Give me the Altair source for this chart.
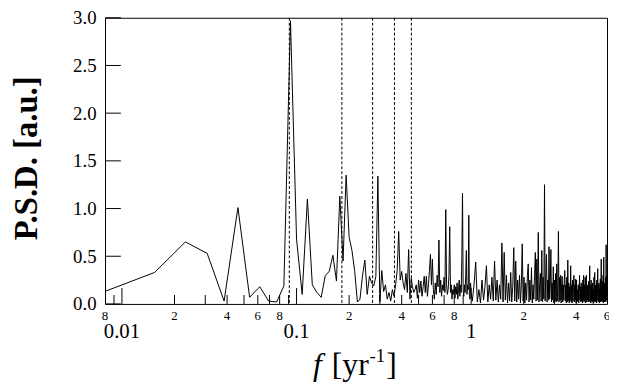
import altair as alt
import pandas as pd

# frequency resolution of the periodogram (yr^-1)
DF = 1.0 / 130.0

# PSD values at k = 1..130  (f = k * DF)
psd_low = [
    0.12, 0.33, 0.65, 0.53, 0.03, 1.01, 0.07, 0.18, 0.03, 0.02,
    0.19, 2.97, 0.68, 0.10, 1.10, 0.20, 0.12, 0.07, 0.30, 0.34,
    0.51, 0.24, 1.13, 0.45, 1.35, 0.70, 0.56, 0.34, 0.02, 0.05,
    0.29, 0.46, 0.10, 0.29, 0.22, 0.19, 0.29, 1.34, 0.02, 0.35,
    0.13, 0.20, 0.05, 0.12, 0.03, 0.15, 0.08, 0.20, 0.35, 0.76,
    0.25, 0.34, 0.22, 0.15, 0.32, 0.12, 0.57, 0.05, 0.27, 0.18,
    0.12, 0.15, 0.20, 0.06, 0.25, 0.12, 0.24, 0.08, 0.18, 0.29,
    0.12, 0.29, 0.08, 0.20, 0.35, 0.52, 0.20, 0.47, 0.15, 0.05,
    0.22, 0.10, 0.30, 0.18, 0.67, 0.12, 0.25, 0.08, 0.20, 0.14,
    0.28, 0.12, 0.99, 0.20, 0.10, 0.15, 0.30, 0.81, 0.12, 0.20,
    0.05, 0.15, 0.10, 0.20, 0.06, 0.18, 0.10, 0.22, 0.05, 0.15,
    0.25, 0.08, 0.20, 0.12, 0.49, 1.16, 0.15, 0.08, 0.20, 0.12,
    0.30, 0.56, 0.10, 0.20, 0.15, 0.93, 0.10, 0.05, 0.22, 0.12,
]

# PSD values at k = 132, 135, ..., 780 (sampled every third bin)
psd_high = [
    0.03, 0.20, 0.44, 0.02, 0.15, 0.01, 0.25, 0.04, 0.18, 0.40,
    0.02, 0.20, 0.05, 0.28, 0.03, 0.45, 0.04, 0.25, 0.02, 0.20,
    0.05, 0.64, 0.02, 0.54, 0.04, 0.30, 0.01, 0.22, 0.03, 0.33,
    0.02, 0.18, 0.59, 0.03, 0.45, 0.02, 0.25, 0.05, 0.30, 0.01,
    0.20, 0.63, 0.03, 0.28, 0.01, 0.22, 0.04, 0.30, 0.42, 0.02,
    0.25, 0.04, 0.38, 0.01, 0.20, 0.05, 0.30, 0.54, 0.03, 0.47,
    0.04, 0.75, 0.02, 0.20, 0.32, 0.03, 0.56, 0.02, 0.28, 0.05,
    1.25, 0.03, 0.30, 0.52, 0.02, 0.25, 0.04, 0.60, 0.05, 0.20,
    0.57, 0.02, 0.22, 0.04, 0.39, 0.01, 0.25, 0.03, 0.32, 0.02,
    0.42, 0.03, 0.20, 0.76, 0.02, 0.28, 0.04, 0.30, 0.01, 0.22,
    0.29, 0.02, 0.20, 0.04, 0.25, 0.35, 0.03, 0.20, 0.01, 0.28,
    0.02, 0.46, 0.03, 0.22, 0.01, 0.18, 0.04, 0.40, 0.02, 0.20,
    0.01, 0.25, 0.03, 0.18, 0.30, 0.02, 0.20, 0.04, 0.26, 0.01,
    0.25, 0.02, 0.15, 0.03, 0.20, 0.01, 0.12, 0.30, 0.04, 0.18,
    0.02, 0.22, 0.03, 0.17, 0.01, 0.25, 0.04, 0.30, 0.02, 0.20,
    0.03, 0.28, 0.01, 0.12, 0.30, 0.02, 0.20, 0.04, 0.18, 0.02,
    0.24, 0.03, 0.15, 0.40, 0.02, 0.20, 0.01, 0.25, 0.03, 0.18,
    0.02, 0.22, 0.04, 0.15, 0.01, 0.28, 0.03, 0.33, 0.02, 0.20,
    0.03, 0.18, 0.01, 0.25, 0.04, 0.15, 0.37, 0.02, 0.20, 0.03,
    0.22, 0.01, 0.16, 0.04, 0.26, 0.02, 0.20, 0.47, 0.03, 0.18,
    0.02, 0.24, 0.04, 0.30, 0.01, 0.49, 0.03, 0.22, 0.02, 0.20,
    0.03, 0.28, 0.02, 0.62, 0.04, 0.30, 0.05,
]

# dashed lines: 11-yr cycle and its harmonics
harmonics = [0.0909, 0.1818, 0.2727, 0.3636, 0.4545]

ytick_vals = [0.0, 0.5, 1.0, 1.5, 2.0, 2.5, 3.0]
xtick_major = [0.01, 0.1, 1.0]
xtick_minor = [0.009, 0.02, 0.03, 0.04, 0.05, 0.06, 0.07, 0.08, 0.09,
               0.2, 0.3, 0.4, 0.5, 0.6, 0.7, 0.8, 0.9, 2, 3, 4, 5]
minor_label_pos = [0.008, 0.02, 0.04, 0.06, 0.08, 0.2, 0.4, 0.6, 0.8, 2, 4, 6]
minor_label_txt = ["8", "2", "4", "6", "8", "2", "4", "6", "8", "2", "4", "6"]
major_label_txt = ["0.01", "0.1", "1"]

k_low = list(range(1, 131))
k_high = list(range(132, 781, 3))
assert len(k_low) == len(psd_low) and len(k_high) == len(psd_high)
df = pd.DataFrame({
    "f": [k * DF for k in k_low + k_high],
    "p": psd_low + psd_high,
})

W, H = 507, 289
FONT = "Liberation Serif"
xs = alt.Scale(type="log", domain=[0.008, 6], nice=False)
ys = alt.Scale(domain=[0, 3], nice=False, zero=False)
yaxis = alt.Axis(values=ytick_vals, format=".1f", ticks=False, domain=False,
                 grid=False, labelFont=FONT, labelFontSize=19, labelColor="black",
                 labelPadding=9, title=None)

line = alt.Chart(df).mark_line(color="black", strokeWidth=1, clip=True).encode(
    x=alt.X("f:Q", scale=xs, axis=None),
    y=alt.Y("p:Q", scale=ys, axis=yaxis),
)

dashed = alt.Chart(pd.DataFrame({"f": harmonics})).mark_rule(
    color="black", strokeWidth=1, strokeDash=[3, 2]
).encode(x=alt.X("f:Q", scale=xs, axis=None))

ytk = alt.Chart(pd.DataFrame({"p": ytick_vals})).mark_rule(color="black", strokeWidth=1).encode(
    y=alt.Y("p:Q", scale=ys, axis=yaxis), x=alt.value(0), x2=alt.value(16)
)

xminor = alt.Chart(pd.DataFrame({"f": xtick_minor})).mark_rule(color="black", strokeWidth=1).encode(
    x=alt.X("f:Q", scale=xs, axis=None), y=alt.value(H), y2=alt.value(H - 9)
)
xmajor = alt.Chart(pd.DataFrame({"f": xtick_major})).mark_rule(color="black", strokeWidth=1).encode(
    x=alt.X("f:Q", scale=xs, axis=None), y=alt.value(H), y2=alt.value(H - 16)
)

minor_lab = alt.Chart(pd.DataFrame({"f": minor_label_pos, "t": minor_label_txt})).mark_text(
    font=FONT, fontSize=13, color="black", align="center", baseline="alphabetic"
).encode(x=alt.X("f:Q", scale=xs, axis=None), y=alt.value(H + 16), text="t:N")

major_lab = alt.Chart(pd.DataFrame({"f": xtick_major, "t": major_label_txt})).mark_text(
    font=FONT, fontSize=21, color="black", align="center", baseline="alphabetic"
).encode(x=alt.X("f:Q", scale=xs, axis=None), y=alt.value(H + 34), text="t:N")


def label(txt, x, y, size, **kw):
    return alt.Chart(pd.DataFrame({"t": [txt]})).mark_text(
        font=FONT, fontSize=size, color="black", **kw
    ).encode(x=alt.value(x), y=alt.value(y), text="t:N")


TB = H + 72
xt_f = label("f", 210, TB, 32, fontStyle="italic", align="left", baseline="alphabetic")
xt_a = label("[yr", 229, TB, 32, align="left", baseline="alphabetic")
xt_s = label("-1", 267, TB - 13, 19, align="left", baseline="alphabetic")
xt_b = label("]", 284, TB, 32, align="left", baseline="alphabetic")

yt = label("P.S.D. [a.u.]", -69, 142, 33, fontWeight="bold", angle=270,
           align="center", baseline="alphabetic")

chart = alt.layer(
    line, dashed, ytk, xminor, xmajor, minor_lab, major_lab,
    xt_f, xt_a, xt_s, xt_b, yt
).properties(
    width=W, height=H,
    padding={"left": 98, "top": 8, "right": 2, "bottom": 80},
    autosize=alt.AutoSizeParams(type="none"),
    background="white",
).configure_view(stroke="black", strokeWidth=1)

chart.save("out.html", embed_options={"renderer": "svg", "actions": False})
